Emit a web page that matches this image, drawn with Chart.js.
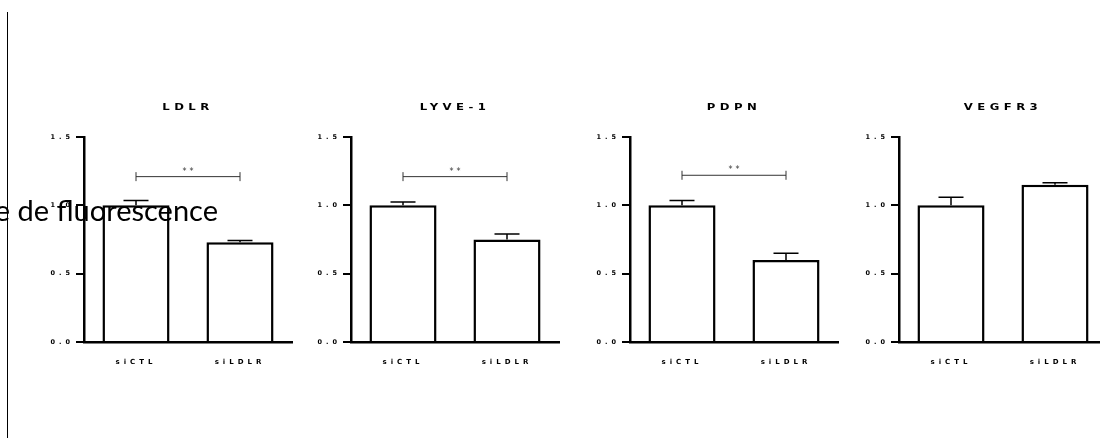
<!DOCTYPE html>
<html>
<head>
<meta charset="utf-8">
<script src="https://cdn.jsdelivr.net/npm/chart.js@4/dist/chart.umd.min.js"></script>
<style>
  html, body { margin: 0; padding: 0; background: #fff; }
  body { width: 1100px; height: 443px; overflow: hidden; position: relative; }
  canvas { position: absolute; top: 0; }
  #frame { position: absolute; left: 7px; top: 12px; width: 1px; height: 426px; background: #000; }
  #ylab { position: absolute; left: 218px; top: 196px; transform: translateX(-100%);
          white-space: nowrap; font: 29px/28px Lato, sans-serif; color: #000; }
</style>
</head>
<body>
<canvas id="c0" width="275" height="443" style="left:24px"></canvas>
<canvas id="c1" width="275" height="443" style="left:291px"></canvas>
<canvas id="c2" width="275" height="443" style="left:570px"></canvas>
<canvas id="c3" width="275" height="443" style="left:839px"></canvas>
<div id="frame"></div>
<div id="ylab">Intensité moyenne de fluorescence</div>
<script>
const genes = ['LDLR', 'LYVE-1', 'PDPN', 'VEGFR3'];
const groups = ['siCTL', 'siLDLR'];
const meanCTL = [1.0, 1.0, 1.0, 1.0];
const meanLDLR = [0.73, 0.75, 0.60, 1.15];
const semCTL = [0.035, 0.025, 0.035, 0.06];
const semLDLR = [0.012, 0.04, 0.05, 0.015];
const sigLevel = [1.21, 1.21, 1.22, null];
const sigText = ['**', '**', '**', ''];
const yTicks = [0, 0.5, 1.0, 1.5];

const FONT = '"DejaVu Sans", "Liberation Sans", Arial, sans-serif';
Chart.defaults.font.family = FONT;
Chart.defaults.color = '#000';

// letter spaced text like the exported figure
const spacing = {
  id: 'spacing',
  beforeDraw(chart) { chart.ctx.letterSpacing = '4px'; }
};

const panelTitle = {
  id: 'panelTitle',
  afterDraw(chart, args, opts) {
    const {ctx, chartArea} = chart;
    ctx.save();
    ctx.translate((chartArea.left + chartArea.right) / 2, 107.5);
    ctx.scale(1.3, 1);
    ctx.letterSpacing = '3.4px';
    ctx.font = 'bold 9px ' + FONT;
    ctx.fillStyle = '#000';
    ctx.textAlign = 'center';
    ctx.textBaseline = 'middle';
    ctx.fillText(opts.text, 0, 0);
    ctx.restore();
  }
};

const errorBars = {
  id: 'errorBars',
  afterDatasetsDraw(chart, args, opts) {
    const {ctx} = chart;
    const y = chart.scales.y;
    const means = chart.data.datasets[0].data;
    ctx.save();
    ctx.strokeStyle = '#000';
    ctx.lineWidth = 1.5;
    chart.getDatasetMeta(0).data.forEach((bar, i) => {
      const base = y.getPixelForValue(means[i]);
      const top = y.getPixelForValue(means[i] + opts.errs[i]);
      ctx.beginPath();
      ctx.moveTo(bar.x, base);
      ctx.lineTo(bar.x, top);
      ctx.moveTo(bar.x - 12.5, top);
      ctx.lineTo(bar.x + 12.5, top);
      ctx.stroke();
    });
    ctx.restore();
  }
};

const sigBar = {
  id: 'sigBar',
  afterDraw(chart, args, opts) {
    if (opts.level == null) return;
    const {ctx} = chart;
    const pts = chart.getDatasetMeta(0).data;
    const yy = chart.scales.y.getPixelForValue(opts.level);
    const x0 = pts[0].x, x1 = pts[1].x;
    ctx.save();
    ctx.strokeStyle = '#333';
    ctx.lineWidth = 1;
    ctx.beginPath();
    ctx.moveTo(x0, yy); ctx.lineTo(x1, yy);
    ctx.moveTo(x0, yy - 4.5); ctx.lineTo(x0, yy + 4.5);
    ctx.moveTo(x1, yy - 4.5); ctx.lineTo(x1, yy + 4.5);
    ctx.stroke();
    ctx.letterSpacing = '3px';
    ctx.font = '8px ' + FONT;
    ctx.fillStyle = '#333';
    ctx.textAlign = 'center';
    ctx.textBaseline = 'middle';
    ctx.fillText(opts.text, (x0 + x1) / 2 + 1.5, yy - 5);
    ctx.restore();
  }
};

genes.forEach((gene, i) => {
  new Chart(document.getElementById('c' + i), {
    type: 'bar',
    data: {
      labels: groups,
      datasets: [{
        data: [meanCTL[i], meanLDLR[i]],
        backgroundColor: '#fff',
        borderColor: '#000',
        borderWidth: 2.5,
        barPercentage: 0.645,
        categoryPercentage: 1
      }]
    },
    options: {
      responsive: false,
      animation: false,
      events: [],
      layout: { padding: { top: 137, right: 7, left: 0, bottom: 0 } },
      scales: {
        y: {
          min: 0, max: 1.5,
          afterFit: s => { s.width = 60; },
          afterBuildTicks: s => { s.ticks = yTicks.map(v => ({ value: v })); },
          ticks: {
            callback: v => v.toFixed(1),
            font: { size: 6.5, weight: 'bold' },
            padding: 2
          },
          grid: { drawOnChartArea: false, drawTicks: true, tickLength: 8, color: '#000', lineWidth: 2 },
          border: { display: true, color: '#000', width: 2.5 }
        },
        x: {
          afterFit: s => { s.height = 101; },
          ticks: { font: { size: 7, weight: 'bold' }, padding: 16 },
          grid: { drawOnChartArea: false, drawTicks: false },
          border: { display: true, color: '#000', width: 2.5 }
        }
      },
      plugins: {
        legend: { display: false },
        tooltip: { enabled: false },
        panelTitle: { text: gene },
        errorBars: { errs: [semCTL[i], semLDLR[i]] },
        sigBar: { level: sigLevel[i], text: sigText[i] }
      }
    },
    plugins: [spacing, panelTitle, errorBars, sigBar]
  });
});
</script>
</body>
</html>
